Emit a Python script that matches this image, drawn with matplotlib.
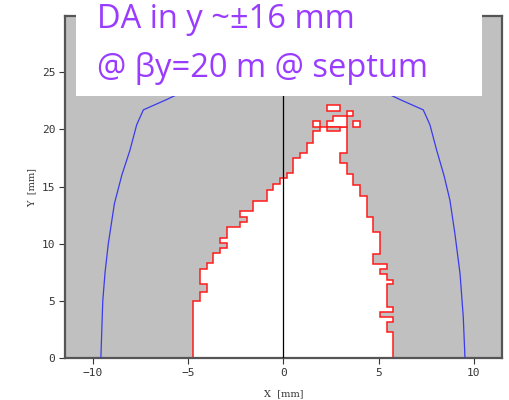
import matplotlib
matplotlib.use("Agg")
import matplotlib.pyplot as plt
from matplotlib.patches import Polygon, Rectangle

# Physical aperture (blue) — x, y in mm
ap_x = [-9.57, -9.52, -9.47, -9.35, -9.18, -8.86, -8.47, -8.04, -7.69, -7.34,
        -6.12, -5.68, -4.0, -2.0, 0.0, 2.0, 4.0, 5.68, 6.12, 7.34, 7.69, 8.04,
        8.44, 8.74, 9.0, 9.27, 9.44, 9.53]
ap_y = [0.0, 2.5, 5.0, 7.5, 10.0, 13.5, 16.0, 18.2, 20.4, 21.7,
        22.6, 22.95, 23.7, 24.2, 24.4, 24.2, 23.7, 22.95, 22.6, 21.7, 20.4, 18.2,
        15.9, 13.8, 10.9, 7.4, 3.6, 0.0]

# Dynamic aperture boundary (stable region), stepped contour
da_x = [-4.725, -4.725, -4.375, -4.375, -4.025, -4.025, -4.375, -4.375, -4.025, -4.025,
        -3.675, -3.675, -3.325, -3.325, -2.975, -2.975, -3.325, -3.325, -2.975, -2.975,
        -2.275, -2.275, -1.925, -1.925, -2.275, -2.275, -1.575, -1.575, -0.875, -0.875,
        -0.525, -0.525, -0.175, -0.175, 0.175, 0.175, 0.525, 0.525, 0.875, 0.875,
        1.225, 1.225, 1.575, 1.575, 1.925, 1.925, 3.325,
        3.325, 2.975, 2.975, 3.325, 3.325, 3.675, 3.675, 4.025, 4.025,
        4.375, 4.375, 4.725, 4.725, 5.075, 5.075, 4.725, 4.725, 5.425, 5.425,
        5.075, 5.075, 5.425, 5.425, 5.775, 5.775, 5.425, 5.425, 5.775, 5.775,
        5.075, 5.075, 5.775, 5.775, 5.425, 5.425, 5.775, 5.775]
da_y = [0.0, 5.00, 5.00, 5.81, 5.81, 6.46, 6.46, 7.80, 7.80, 8.30,
        8.30, 9.17, 9.17, 9.66, 9.66, 10.05, 10.05, 10.54, 10.54, 11.50,
        11.50, 11.94, 11.94, 12.37, 12.37, 12.87, 12.87, 13.77, 13.77, 14.71,
        14.71, 15.21, 15.21, 15.73, 15.73, 16.17, 16.17, 17.48, 17.48, 17.97,
        17.97, 18.79, 18.79, 19.81, 19.81, 20.24, 20.24,
        17.97, 17.97, 17.04, 17.04, 16.11, 16.11, 15.15, 15.15, 14.18,
        14.18, 12.37, 12.37, 11.01, 11.01, 9.11, 9.11, 8.24, 8.24, 7.77,
        7.77, 7.34, 7.34, 6.87, 6.87, 6.46, 6.46, 4.50, 4.50, 4.07,
        4.07, 3.63, 3.63, 3.19, 3.19, 2.32, 2.32, 0.0]

# Detached stable islands above the main region
island_b_x = [2.275, 2.275, 2.625, 2.625, 3.325, 3.325]
island_b_y = [20.24, 20.74, 20.74, 21.18, 21.18, 20.24]
# small rectangular islands: (x0, x1, y0, y1)
cells_x0 = [1.575, 3.325, 2.275, 3.675]
cells_x1 = [1.925, 3.675, 2.975, 4.025]
cells_y0 = [20.24, 21.18, 21.64, 20.24]
cells_y1 = [20.74, 21.64, 22.08, 20.74]
# unstable hole inside the top of the region
hole = (2.275, 2.975, 19.81, 20.24)

x_ticks = [-10, -5, 0, 5, 10]
y_ticks = [0, 5, 10, 15, 20, 25]

GRAY = "#c0c0c0"
RED = "#ff1a1a"
BLUE = "#3a3aee"
PURPLE = "#9a3cff"

fig = plt.figure(figsize=(5.1, 4.0), dpi=100)
ax = fig.add_axes([0.1275, 0.1045, 0.856, 0.8555])
ax.set_facecolor(GRAY)
ax.set_xlim(-11.45, 11.45)
ax.set_ylim(0, 29.9)

ax.add_patch(Polygon(list(zip(da_x, da_y)), closed=True, facecolor="white",
                     edgecolor=RED, linewidth=1.1, zorder=2))
ax.add_patch(Polygon(list(zip(island_b_x, island_b_y)), closed=True, facecolor="white",
                     edgecolor=RED, linewidth=1.1, zorder=3))
for x0, x1, y0, y1 in zip(cells_x0, cells_x1, cells_y0, cells_y1):
    ax.add_patch(Rectangle((x0, y0), x1 - x0, y1 - y0, facecolor="white",
                           edgecolor=RED, linewidth=1.1, zorder=3))
ax.add_patch(Rectangle((hole[0], hole[2]), hole[1] - hole[0], hole[3] - hole[2],
                       facecolor=GRAY, edgecolor=RED, linewidth=1.1, zorder=3))

ax.plot(ap_x, ap_y, color=BLUE, linewidth=0.9, zorder=4)
ax.axvline(0, color="black", linewidth=0.9, zorder=5)

ax.set_xticks(x_ticks)
ax.set_yticks(y_ticks)
ax.tick_params(direction="out", length=4, width=0.8, colors="#333333",
               labelsize=8, pad=3)
for lbl in ax.get_xticklabels() + ax.get_yticklabels():
    lbl.set_family("DejaVu Sans Mono")
for s in ax.spines.values():
    s.set_color("#555555")
    s.set_linewidth(1.6)
ax.set_xlabel("X  [mm]", fontsize=7, color="#333333", family="DejaVu Serif", labelpad=8)
ax.set_ylabel("Y  [mm]", fontsize=7, color="#333333", family="DejaVu Serif", labelpad=4)

# Annotation box overlaid on the top of the plot
fig.patches.append(Rectangle((76 / 510, 1 - 95.7 / 400), (482.3 - 76) / 510, 95.7 / 400,
                             transform=fig.transFigure, facecolor="white",
                             edgecolor="none", zorder=10))
fig.text(97 / 510, 1 - 28 / 400, "DA in y ~\u00b116 mm", color=PURPLE, fontsize=23.5,
         family="Open Sans", ha="left", va="baseline", zorder=11)
fig.text(97 / 510, 1 - 77 / 400, "@ \u03b2y=20 m @ septum", color=PURPLE, fontsize=23.5,
         family="Open Sans", ha="left", va="baseline", zorder=11)

fig.savefig("out.png", dpi=100)
